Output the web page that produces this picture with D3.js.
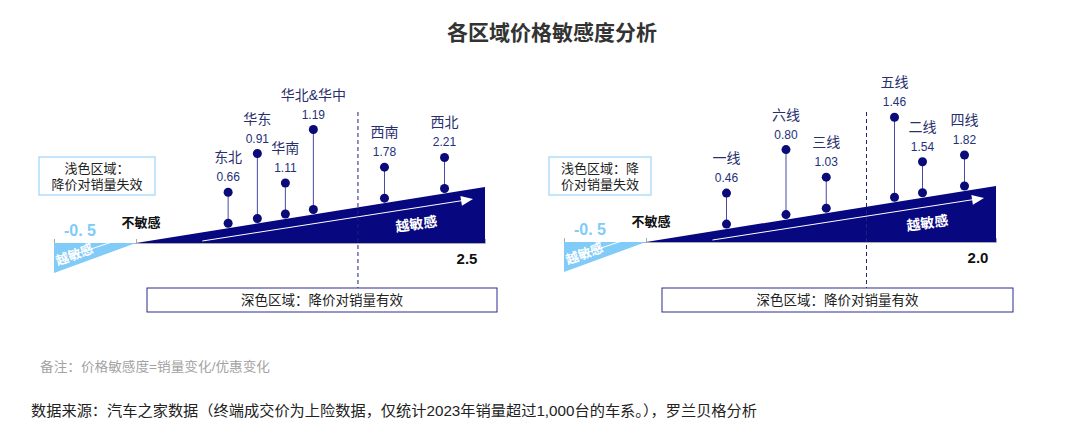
<!DOCTYPE html>
<html>
<head>
<meta charset="utf-8">
<script src="https://cdn.jsdelivr.net/npm/d3@7"></script>
<style>
  body { margin: 0; background: #fff; }
  svg { font-family: "Liberation Sans", Arial, "Noto Sans CJK SC", sans-serif; }
</style>
</head>
<body>
<svg id="chart" width="1080" height="427"></svg>
<script>
// region panel
const regionNames = ["东北", "华东", "华南", "华北&华中", "西南", "西北"]
const regionValues = [0.66, 0.91, 1.11, 1.19, 1.78, 2.21]
const regionThreshold = 1.59
const regionMax = 2.5

// city tier panel
const tierNames = ["一线", "六线", "三线", "五线", "二线", "四线"]
const tierValues = [0.46, 0.80, 1.03, 1.46, 1.54, 1.82]
const tierThreshold = 1.26
const tierMax = 2.0

const axisMin = -0.5

const navy = "#07077f"
const light = "#80cbf7"

let svg = d3.select("#chart")

// title
svg.append("text")
    .attr("x", 552).attr("y", 40)
    .attr("text-anchor", "middle")
    .style("font-size", "21px").style("font-weight", "bold").style("fill", "#333")
    .text("各区域价格敏感度分析")

// leader lengths by rank, just to keep labels apart
const leaderLen = [31, 65, 31, 80, 31, 31]

function dodge(xs, gap) {
    let out = xs.slice()
    for (let k = 0; k < 60; k++) {
        for (let i = 1; i < out.length; i++) {
            let d = out[i] - out[i-1]
            if (d < gap) {
                out[i-1] -= (gap - d) / 2
                out[i] += (gap - d) / 2
            }
        }
    }
    return out
}

function panel(opts) {
    let {names, values, threshold, maxVal, x0, xZero, x1, base, lightText, lightBox, darkBox} = opts
    let g = svg.append("g")

    // piecewise scale: the light part has a fixed width
    let x = d3.scaleLinear().domain([axisMin, 0, maxVal]).range([x0, xZero, x1])
    let rise = d3.scaleLinear().domain([0, maxVal]).range([0, 56])
    let edgeY = v => base - rise(v)

    // axis line with small ticks
    g.append("g")
        .attr("transform", `translate(0,${base})`)
        .call(d3.axisTop(x).tickValues([axisMin, 0, maxVal]).tickSize(4).tickFormat(""))
        .call(a => a.selectAll("path,line").attr("stroke", "#aaa"))

    // light triangle (below zero)
    g.append("path")
        .attr("d", `M${x(axisMin)},${base} L${x(0)},${base} L${x(axisMin)},${base + 30} Z`)
        .attr("fill", light)
    g.append("line")
        .attr("x1", x(axisMin) + 19).attr("y1", base + 12)
        .attr("x2", x(axisMin) + 58).attr("y2", base - 1)
        .attr("stroke", "#fff").attr("stroke-width", 1)
    g.append("text")
        .attr("transform", `translate(${x(axisMin) + 22},${base + 16}) rotate(-20)`)
        .attr("text-anchor", "middle")
        .style("font-size", "13px").style("font-weight", "bold").style("fill", "#fff")
        .text("越敏感")

    // dark triangle
    g.append("path")
        .attr("d", `M${x(0)},${base} L${x(maxVal)},${base} L${x(maxVal)},${edgeY(maxVal)} Z`)
        .attr("fill", navy)

    // arrow
    let ax1 = x(0) + (x(maxVal) - x(0)) * 0.19, ay1 = base - 2
    let ax2 = x(maxVal) - 12, ay2 = edgeY(maxVal) + 12
    g.append("line")
        .attr("x1", ax1).attr("y1", ay1).attr("x2", ax2 - 8).attr("y2", ay2 + 1.2)
        .attr("stroke", "#fff").attr("stroke-width", 1)
    let ang = Math.atan2(ay2 - ay1, ax2 - ax1)
    g.append("path")
        .attr("d", "M0,0 L-12,-5 L-12,5 Z")
        .attr("transform", `translate(${ax2},${ay2}) rotate(${ang * 180 / Math.PI})`)
        .attr("fill", "#fff")
    g.append("text")
        .attr("transform", `translate(${x(maxVal) - 68},${base - 14}) rotate(-8)`)
        .attr("text-anchor", "middle")
        .style("font-size", "14px").style("font-weight", "bold").style("fill", "#fff")
        .text("越敏感")

    // end labels
    g.append("text")
        .attr("x", x(axisMin) + 26).attr("y", base - 7)
        .attr("text-anchor", "middle")
        .style("font-size", "16px").style("font-weight", "bold").style("fill", light)
        .text("-0. 5")
    g.append("text")
        .attr("x", x(0) + 5).attr("y", base - 16)
        .attr("text-anchor", "middle")
        .style("font-size", "13px").style("font-weight", "bold").style("fill", "#111")
        .text("不敏感")
    g.append("text")
        .attr("x", x(maxVal) - 18).attr("y", base + 21)
        .attr("text-anchor", "middle")
        .style("font-size", "15px").style("font-weight", "bold").style("fill", "#111")
        .text(d3.format(".1f")(maxVal))

    // threshold dashed line
    g.append("line")
        .attr("x1", x(threshold)).attr("x2", x(threshold))
        .attr("y1", 112).attr("y2", 288)
        .attr("stroke", "#22227a").attr("stroke-width", 1).attr("stroke-dasharray", "4,3")

    // light-area note box
    let lb = g.append("g").attr("transform", `translate(${lightBox[0]},157)`)
    lb.append("rect")
        .attr("width", lightBox[1]).attr("height", 38)
        .attr("fill", "#fff").attr("stroke", "#9fd6f7").attr("stroke-width", 1.2)
    lightText.forEach((t, i) => {
        lb.append("text")
            .attr("x", lightBox[1] / 2).attr("y", 16 + i * 16)
            .attr("text-anchor", "middle")
            .style("font-size", "13px").style("fill", "#222")
            .text(t)
    })

    // dark-area note box
    let db = g.append("g").attr("transform", `translate(${darkBox[0]},288)`)
    db.append("rect")
        .attr("width", darkBox[1]).attr("height", 24)
        .attr("fill", "#fff").attr("stroke", "#2a2a8c").attr("stroke-width", 1)
    db.append("text")
        .attr("x", darkBox[1] / 2).attr("y", 17)
        .attr("text-anchor", "middle")
        .style("font-size", "13.5px").style("fill", "#222")
        .text("深色区域：降价对销量有效")

    // lollipops
    let px = dodge(values.map(v => x(v)), 28)
    let pts = values.map((v, i) => {
        let bottom = base - rise(x.invert(px[i])) - 5
        return {name: names[i], value: v, x: px[i], bottom: bottom, top: bottom - leaderLen[i]}
    })
    let p = g.selectAll(".pt").data(pts).enter().append("g").attr("class", "pt")
    p.append("line")
        .attr("x1", d => d.x).attr("x2", d => d.x)
        .attr("y1", d => d.top).attr("y2", d => d.bottom)
        .attr("stroke", "#4a4aa6").attr("stroke-width", 1)
    p.append("circle").attr("cx", d => d.x).attr("cy", d => d.top).attr("r", 4.5).attr("fill", "#0a0a78")
    p.append("circle").attr("cx", d => d.x).attr("cy", d => d.bottom).attr("r", 4.5).attr("fill", "#0a0a78")
    p.append("text")
        .attr("x", d => d.x).attr("y", d => d.top - 11)
        .attr("text-anchor", "middle")
        .style("font-size", "12px").style("fill", "#24307a")
        .text(d => d3.format(".2f")(d.value))
    p.append("text")
        .attr("x", d => d.x).attr("y", d => d.top - 30)
        .attr("text-anchor", "middle")
        .style("font-size", "14px").style("fill", "#2a2f6e")
        .text(d => d.name)
}

panel({
    names: regionNames, values: regionValues, threshold: regionThreshold, maxVal: regionMax,
    x0: 54, xZero: 136, x1: 485, base: 243,
    lightText: ["浅色区域：", "降价对销量失效"], lightBox: [39, 116], darkBox: [147, 350]
})
panel({
    names: tierNames, values: tierValues, threshold: tierThreshold, maxVal: tierMax,
    x0: 564, xZero: 646, x1: 996, base: 242,
    lightText: ["浅色区域：降", "价对销量失效"], lightBox: [549, 102], darkBox: [662, 351]
})

// notes
svg.append("text")
    .attr("x", 40).attr("y", 371)
    .attr("textLength", 230).attr("lengthAdjust", "spacingAndGlyphs")
    .style("font-size", "13px").style("fill", "#a3a3a3")
    .text("备注：价格敏感度=销量变化/优惠变化")
svg.append("text")
    .attr("x", 31).attr("y", 416)
    .attr("textLength", 726).attr("lengthAdjust", "spacingAndGlyphs")
    .style("font-size", "14.5px").style("fill", "#222")
    .text("数据来源：汽车之家数据（终端成交价为上险数据，仅统计2023年销量超过1,000台的车系。），罗兰贝格分析")
</script>
</body>
</html>
